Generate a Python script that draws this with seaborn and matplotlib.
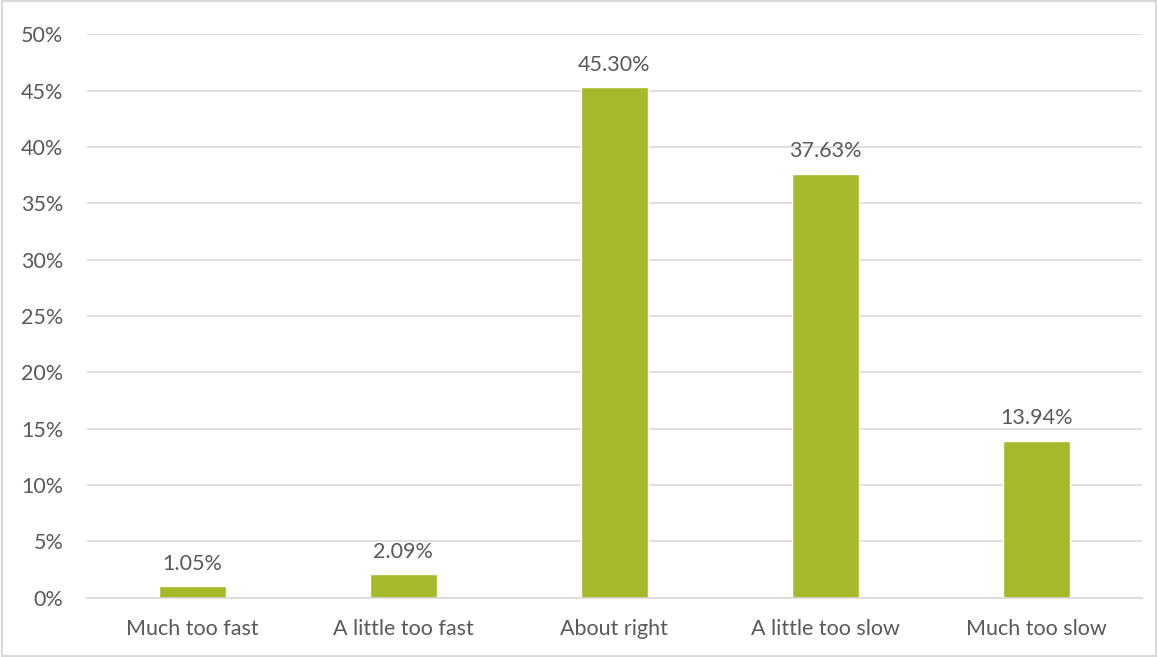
import matplotlib
matplotlib.use("Agg")
import matplotlib.pyplot as plt
import seaborn as sns
import pandas as pd
from matplotlib.ticker import FuncFormatter
from matplotlib.patches import Rectangle

categories = ["Much too fast", "A little too fast", "About right", "A little too slow", "Much too slow"]
shares = [1.05, 2.09, 45.30, 37.63, 13.94]
labels = ["1.05%", "2.09%", "45.30%", "37.63%", "13.94%"]

df = pd.DataFrame({"category": categories, "share": shares})

sns.set_theme(style="white")
plt.rcParams["font.family"] = ["Lato", "DejaVu Sans"]
text_color = "#595959"

fig = plt.figure(figsize=(11.58, 6.57), dpi=100)
ax = fig.add_axes([0.075, 0.09, 0.911, 0.858])

sns.barplot(data=df, x="category", y="share", color="#A5B92A", width=0.32,
            saturation=1, ax=ax)

for i, (v, lab) in enumerate(zip(shares, labels)):
    ax.annotate(lab, (i, v), xytext=(0, 9), textcoords="offset points",
                ha="center", va="bottom", fontsize=15.5, color=text_color)

ax.set_ylim(0, 50)
ax.set_xlim(-0.5, 4.5)
ax.set_yticks(range(0, 51, 5))
ax.yaxis.set_major_formatter(FuncFormatter(lambda v, p: f"{v:.0f}%"))
ax.grid(axis="y", color="#D9D9D9", linewidth=1.2)
ax.set_axisbelow(True)
for s in ["top", "right", "left"]:
    ax.spines[s].set_visible(False)
ax.spines["bottom"].set_color("#D9D9D9")
ax.spines["bottom"].set_linewidth(1.2)
ax.tick_params(axis="both", length=0, labelsize=15.5, labelcolor=text_color)
ax.tick_params(axis="x", pad=15)
ax.tick_params(axis="y", pad=17)
ax.set_xlabel("")
ax.set_ylabel("")

fig.patches.append(Rectangle((0.002, 0.002), 0.996, 0.996, transform=fig.transFigure,
                             fill=False, edgecolor="#D9D9D9", linewidth=1.5))

fig.savefig("out.png", dpi=100)
